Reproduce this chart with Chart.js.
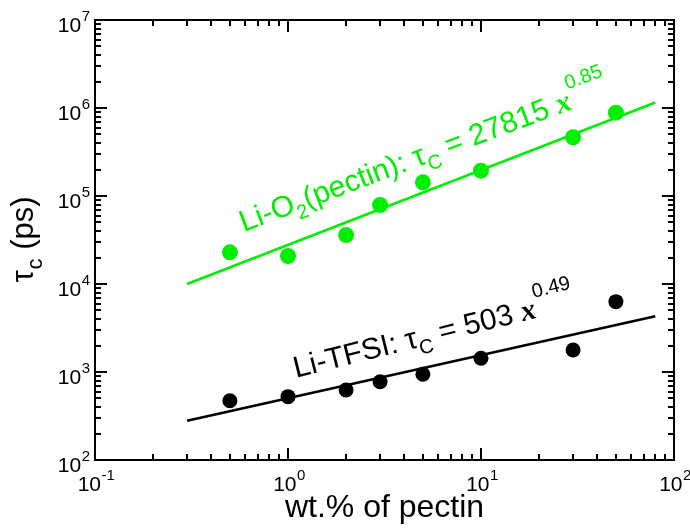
<!DOCTYPE html>
<html>
<head>
<meta charset="utf-8">
<script src="https://cdn.jsdelivr.net/npm/chart.js@4"></script>
<style>
html,body{margin:0;padding:0;background:#fff;}
#wrap{width:690px;height:529px;}
</style>
</head>
<body>
<div id="wrap"><canvas id="c" width="690" height="529"></canvas></div>
<script>
// ---- data ----
const pectinWt = [0.5, 1, 2, 3, 5, 10, 30, 50];
const tauLiO2 = [22900, 20800, 36000, 79000, 143000, 194000, 465000, 885000];
const tauLiTFSI = [472, 525, 624, 776, 943, 1432, 1778, 6300];
const fitX = [0.3, 80];
const fitLiO2 = [9990, 1153000];
const fitLiTFSI = [279, 4306];
const xTickValues = [0.1, 1, 10, 100];
const xTickExp = ['-1', '0', '1', '2'];
const yTickValues = [1e2, 1e3, 1e4, 1e5, 1e6, 1e7];
const yTickExp = ['2', '3', '4', '5', '6', '7'];

const GREEN = '#00ee00';
const SANS = "'Liberation Sans', Arial, Helvetica, sans-serif";
const SERIF = "'Liberation Serif', 'Times New Roman', serif";

function pts(xs, ys) { return xs.map((x, i) => ({x: x, y: ys[i]})); }

function drawRich(ctx, x, y, angle, parts, color) {
  ctx.save();
  ctx.translate(x, y);
  ctx.rotate(angle);
  ctx.fillStyle = color;
  ctx.textAlign = 'left';
  ctx.textBaseline = 'alphabetic';
  let cx = 0;
  for (const p of parts) {
    ctx.font = p.font;
    ctx.fillText(p.t, cx + (p.dx || 0), p.dy || 0);
    cx += ctx.measureText(p.t).width + (p.dx || 0);
  }
  ctx.restore();
}

const decor = {
  id: 'decor',
  afterDatasetsDraw(chart) {
    const ctx = chart.ctx, xs = chart.scales.x, ys = chart.scales.y, a = chart.chartArea;
    ctx.save();
    ctx.strokeStyle = '#000';
    ctx.lineWidth = 2;
    ctx.lineCap = 'butt';
    ctx.strokeRect(a.left, a.top, a.right - a.left, a.bottom - a.top);
    const MAJ = 12, MIN = 6;
    ctx.beginPath();
    for (let e = -1; e <= 2; e++) {
      for (let m = 1; m <= 9; m++) {
        const v = m * Math.pow(10, e);
        if (v > 100.0001) break;
        const px = Math.round(xs.getPixelForValue(v));
        const L = (m === 1) ? MAJ : MIN;
        ctx.moveTo(px, a.bottom); ctx.lineTo(px, a.bottom - L);
        ctx.moveTo(px, a.top); ctx.lineTo(px, a.top + L);
      }
    }
    for (let e = 2; e <= 7; e++) {
      for (let m = 1; m <= 9; m++) {
        const v = m * Math.pow(10, e);
        if (v > 1e7 * 1.0001) break;
        const py = Math.round(ys.getPixelForValue(v));
        const L = (m === 1) ? MAJ : MIN;
        ctx.moveTo(a.left, py); ctx.lineTo(a.left + L, py);
        ctx.moveTo(a.right, py); ctx.lineTo(a.right - L, py);
      }
    }
    ctx.stroke();

    // tick labels
    ctx.fillStyle = '#000';
    ctx.textBaseline = 'alphabetic';
    const baseF = '21px ' + SANS, supF = '15px ' + SANS;
    xTickValues.forEach((v, i) => {
      const px = xs.getPixelForValue(v);
      ctx.font = baseF; const w1 = ctx.measureText('10').width;
      ctx.font = supF; const w2 = ctx.measureText(xTickExp[i]).width;
      const x0 = px - (w1 + w2) / 2 + 1;
      ctx.font = baseF; ctx.textAlign = 'left';
      ctx.fillText('10', x0, a.bottom + 31);
      ctx.font = supF;
      ctx.fillText(xTickExp[i], x0 + w1 + 0.5, a.bottom + 20);
    });
    yTickValues.forEach((v, i) => {
      const py = ys.getPixelForValue(v);
      ctx.font = supF; const w2 = ctx.measureText(yTickExp[i]).width;
      const xr = a.left - 5;
      ctx.textAlign = 'left';
      ctx.fillText(yTickExp[i], xr - w2, py + 1);
      ctx.font = baseF; ctx.textAlign = 'right';
      ctx.fillText('10', xr - w2 - 0.5, py + 12);
    });

    // x title
    ctx.font = '32px ' + SANS;
    ctx.textAlign = 'center';
    ctx.fillText('wt.% of pectin', (a.left + a.right) / 2, a.bottom + 57);

    // y title (rotated) with subscript c
    ctx.save();
    const cy = (a.top + a.bottom) / 2;
    ctx.translate(33, cy);
    ctx.rotate(-Math.PI / 2);
    const tF = '31px ' + SANS, sF = '22px ' + SANS;
    ctx.font = tF; const wt = ctx.measureText('τ').width;
    ctx.font = sF; const wc = ctx.measureText('c').width;
    ctx.font = tF; const wp = ctx.measureText(' (ps)').width;
    const tot = wt + wc + wp;
    let x0 = -tot / 2;
    ctx.textAlign = 'left';
    ctx.font = tF; ctx.fillText('τ', x0, 0); x0 += wt + 1;
    ctx.font = sF; ctx.fillText('c', x0, 9); x0 += wc;
    ctx.font = tF; ctx.fillText(' (ps)', x0, 0);
    ctx.restore();

    // annotations
    const mF = '30px ' + SANS, subF = '20px ' + SANS, xF = 'italic bold 30px ' + SERIF;
    const gx = xs.getPixelForValue(0.59), gy = ys.getPixelForValue(39000);
    drawRich(ctx, gx, gy, -20.5 * Math.PI / 180, [
      {t: 'Li-O', font: mF},
      {t: '2', font: subF, dy: 8},
      {t: '(pectin): τ', font: mF},
      {t: 'C', font: subF, dy: 8},
      {t: ' = 27815 ', font: mF},
      {t: 'x', font: xF},
      {t: '0.85', font: subF, dy: -20, dx: 1}
    ], GREEN);
    const bx = xs.getPixelForValue(1.1), by = ys.getPixelForValue(860);
    drawRich(ctx, bx, by, -14 * Math.PI / 180, [
      {t: 'Li-TFSI: τ', font: mF},
      {t: 'C', font: subF, dy: 8},
      {t: ' = 503 ', font: mF},
      {t: 'x', font: xF},
      {t: '0.49', font: subF, dy: -20, dx: 1}
    ], '#000');
    ctx.restore();
  }
};

new Chart(document.getElementById('c'), {
  type: 'scatter',
  data: {
    datasets: [
      {label: 'Li-O2 fit', data: pts(fitX, fitLiO2), showLine: true, borderColor: GREEN, borderWidth: 2.6, pointRadius: 0, fill: false, order: 4},
      {label: 'Li-TFSI fit', data: pts(fitX, fitLiTFSI), showLine: true, borderColor: '#000', borderWidth: 2.6, pointRadius: 0, fill: false, order: 3},
      {label: 'Li-O2(pectin)', data: pts(pectinWt, tauLiO2), backgroundColor: GREEN, borderWidth: 0, pointRadius: 8, order: 2},
      {label: 'Li-TFSI', data: pts(pectinWt, tauLiTFSI), backgroundColor: '#000', borderWidth: 0, pointRadius: 7.5, order: 1}
    ]
  },
  options: {
    responsive: false,
    animation: false,
    layout: {padding: {left: 95, right: 16, top: 20, bottom: 69}},
    plugins: {legend: {display: false}, tooltip: {enabled: false}},
    scales: {
      x: {type: 'logarithmic', min: 0.1, max: 100, display: false},
      y: {type: 'logarithmic', min: 100, max: 1e7, display: false}
    }
  },
  plugins: [decor]
});
</script>
</body>
</html>
